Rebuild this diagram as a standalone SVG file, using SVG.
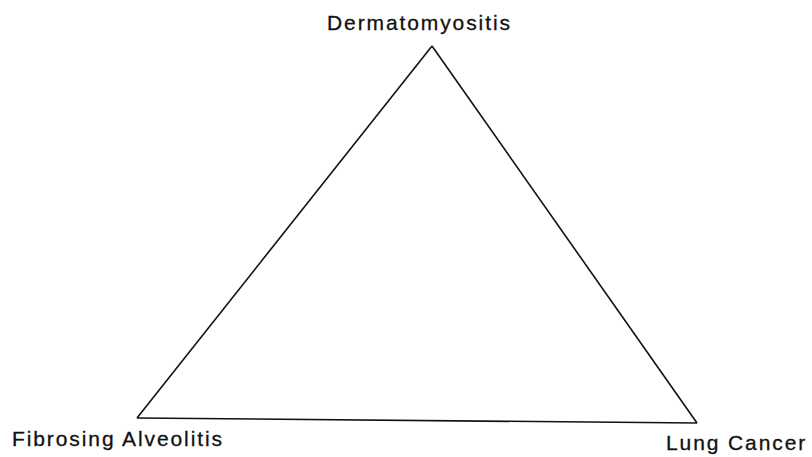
<svg xmlns="http://www.w3.org/2000/svg" width="812" height="457" viewBox="0 0 812 457">
<style>
.lbl{font-family:"Liberation Sans",Arial,sans-serif;font-size:21px;fill:#111;stroke:#111;stroke-width:0.3;letter-spacing:1.9px}
.edge{fill:none;stroke:#111;stroke-width:1.6;stroke-linejoin:miter}
</style>
<rect width="812" height="457" fill="#fff"/>
<g id="connectors">
<path class="edge" d="M432,46 L137,418"/>
<path class="edge" d="M432,46 L697,423"/>
<path class="edge" d="M137,418 L697,423"/>
</g>
<g id="dermatomyositis"><text class="lbl" x="327" y="30">Dermatomyositis</text></g>
<g id="fibrosing-alveolitis"><text class="lbl" x="12" y="446">Fibrosing Alveolitis</text></g>
<g id="lung-cancer"><text class="lbl" x="666" y="450">Lung Cancer</text></g>
</svg>
